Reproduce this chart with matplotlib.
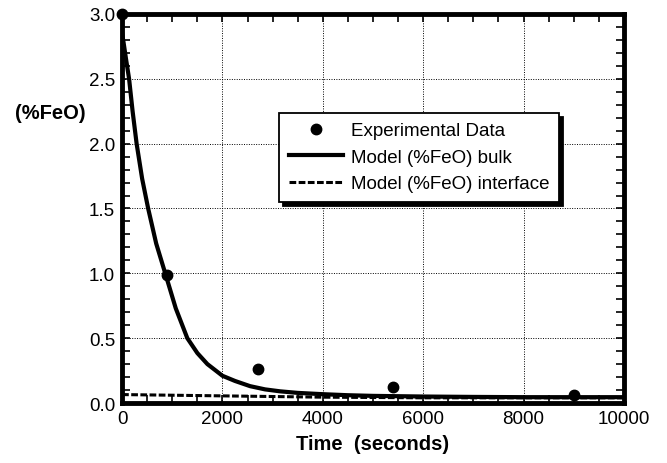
import matplotlib
matplotlib.use("Agg")
import matplotlib.pyplot as plt
from matplotlib.ticker import MultipleLocator, FormatStrFormatter

# Experimental data
exp_t = [0, 900, 2700, 5400, 9000]
exp_feo = [3.0, 0.99, 0.26, 0.12, 0.06]

# Model bulk curve
bulk_t = [0, 30, 80, 140, 210, 290, 400, 520, 680, 860, 1070, 1300, 1500, 1700,
          2000, 2250, 2550, 2850, 3150, 3500, 4000, 4500, 5000, 6000, 7000, 8000, 10000]
bulk_feo = [2.85, 2.78, 2.65, 2.5, 2.25, 2.0, 1.73, 1.5, 1.23, 1.0, 0.73, 0.5, 0.385, 0.3,
            0.21, 0.17, 0.13, 0.105, 0.09, 0.078, 0.068, 0.06, 0.055, 0.05, 0.047, 0.045, 0.045]

# Model interface curve
intf_t = [0, 1000, 2000, 3000, 4000, 6000, 8000, 10000]
intf_feo = [0.065, 0.06, 0.055, 0.05, 0.045, 0.04, 0.04, 0.04]

plt.rcParams['font.family'] = ['Liberation Sans', 'DejaVu Sans']

fig = plt.figure(figsize=(6.67, 4.64), dpi=100)
ax = fig.add_axes([0.183, 0.1293, 0.7525, 0.8384])

ax.plot(intf_t, intf_feo, color='black', lw=2.2, ls=(0, (2.2, 0.8)), label='Model (%FeO) interface', zorder=3)
ax.plot(bulk_t, bulk_feo, color='black', lw=3, label='Model (%FeO) bulk', zorder=4,
        solid_joinstyle='round')
ax.plot(exp_t, exp_feo, 'o', color='black', ms=7.5, label='Experimental Data', clip_on=False, zorder=5)

ax.set_xlim(0, 10000)
ax.set_ylim(0, 3.0)
ax.xaxis.set_major_locator(MultipleLocator(2000))
ax.xaxis.set_minor_locator(MultipleLocator(500))
ax.yaxis.set_major_locator(MultipleLocator(0.5))
ax.yaxis.set_minor_locator(MultipleLocator(0.1))
ax.yaxis.set_major_formatter(FormatStrFormatter('%.1f'))
ax.grid(True, which='major', color='black', ls=(0, (1, 1.5)), lw=0.7)
ax.tick_params(which='both', direction='in', top=True, right=True, length=6, width=1.2,
               labelsize=13.5, pad=5)
for s in ax.spines.values():
    s.set_linewidth(3.5)

ax.set_xlabel('Time  (seconds)', fontsize=14.5, fontweight='bold', labelpad=5)
fig.text(0.022, 0.755, '(%FeO)', fontsize=14.5, fontweight='bold', ha='left', va='center')

handles, labels = ax.get_legend_handles_labels()
order = [2, 1, 0]
leg = ax.legend([handles[i] for i in order], [labels[i] for i in order],
                loc='upper left', bbox_to_anchor=(0.313, 0.7455), fontsize=13.5,
                frameon=True, fancybox=False, shadow={'color': 'black', 'alpha': 1, 'ox': 3, 'oy': -3},
                borderpad=0.5, handlelength=2.9, handletextpad=0.45, labelspacing=0.5,
                borderaxespad=0)
leg.get_frame().set_edgecolor('black')
leg.get_frame().set_linewidth(1.3)
leg.set_zorder(10)

fig.savefig('out.png', dpi=100)
